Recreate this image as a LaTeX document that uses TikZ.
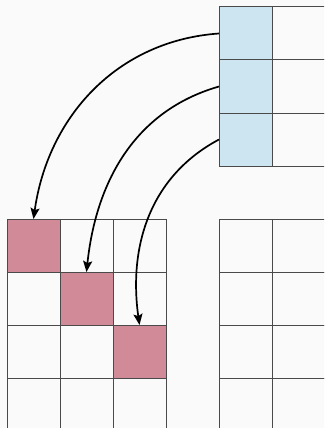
\documentclass[tikz,border=0pt]{standalone}
\usetikzlibrary{arrows.meta}
\definecolor{bgc}{HTML}{FAFAFA}
\definecolor{bluec}{HTML}{CDE4F1}
\definecolor{pinkc}{HTML}{D18A98}
\definecolor{gridc}{HTML}{4A4A4A}
\tikzset{
  cell/.style={draw=gridc, line width=1pt, minimum size=53pt, inner sep=0pt, outer sep=0pt, anchor=north west},
  bcell/.style={cell, fill=bluec},
  pcell/.style={cell, fill=pinkc},
  ecell/.style={cell, fill=bgc},
  link/.style={-{Stealth[length=11pt,width=9pt,inset=2pt]}, line width=1.7pt, black}
}
\begin{document}
\begin{tikzpicture}[x=1pt,y=1pt]
\useasboundingbox (0,0) rectangle (324,-428);
\fill[bgc] (0,0) rectangle (324,-428);
\clip (0,0) rectangle (324,-428);
% top-right grid
\node[bcell] (b1) at (219,-7) {};
\node[bcell] (b2) at (219,-60) {};
\node[bcell] (b3) at (219,-113) {};
\node[ecell] (t1) at (272,-7) {};
\node[ecell] (t2) at (272,-60) {};
\node[ecell] (t3) at (272,-113) {};
% bottom-left grid
\node[pcell] (p1) at (7,-219) {};
\node[ecell] (l12) at (60,-219) {};
\node[ecell] (l13) at (113,-219) {};
\node[ecell] (l21) at (7,-272) {};
\node[pcell] (p2) at (60,-272) {};
\node[ecell] (l23) at (113,-272) {};
\node[ecell] (l31) at (7,-325) {};
\node[ecell] (l32) at (60,-325) {};
\node[pcell] (p3) at (113,-325) {};
\node[ecell] (l41) at (7,-378) {};
\node[ecell] (l42) at (60,-378) {};
\node[ecell] (l43) at (113,-378) {};
% bottom-right grid
\node[ecell] (r11) at (219,-219) {};
\node[ecell] (r12) at (272,-219) {};
\node[ecell] (r21) at (219,-272) {};
\node[ecell] (r22) at (272,-272) {};
\node[ecell] (r31) at (219,-325) {};
\node[ecell] (r32) at (272,-325) {};
\node[ecell] (r41) at (219,-378) {};
\node[ecell] (r42) at (272,-378) {};
% arrows
\draw[link] (b1.west) to[out=184,in=82] (p1.north);
\draw[link] (b2.west) to[out=196,in=84] (p2.north);
\draw[link] (b3.west) to[out=208,in=98] (p3.north);
\end{tikzpicture}
\end{document}
